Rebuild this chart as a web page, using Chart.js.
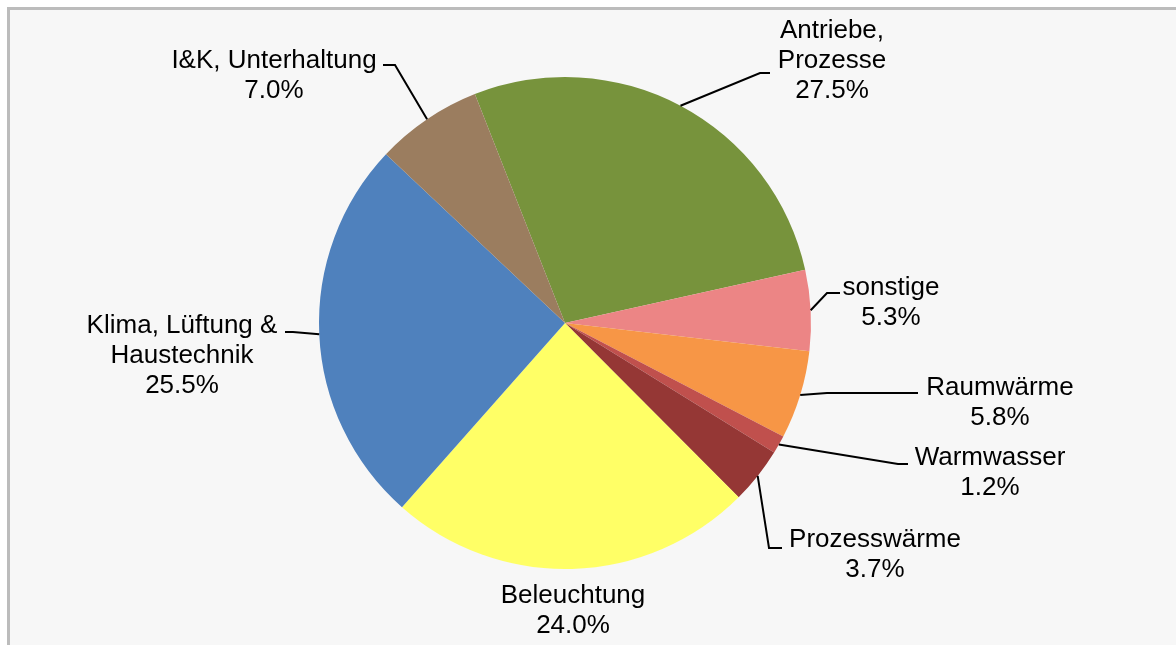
<!DOCTYPE html>
<html>
<head>
<meta charset="utf-8">
<script src="https://cdn.jsdelivr.net/npm/chart.js@4"></script>
<style>
  html, body { margin: 0; padding: 0; background: #fff; }
  #frame {
    position: absolute; left: 7px; top: 7px; right: -10px; bottom: -10px;
    border-left: 3px solid #bcbcbc; border-top: 3px solid #bcbcbc;
    background: #f7f7f7;
  }
  #wrap { position: absolute; left: 0; top: 0; width: 1176px; height: 645px; }
</style>
</head>
<body>
<div id="frame"></div>
<div id="wrap"><canvas id="pieChart" width="1176" height="645"></canvas></div>
<script>
const categories = ['Antriebe, Prozesse', 'sonstige', 'Raumwärme', 'Warmwasser',
  'Prozesswärme', 'Beleuchtung', 'Klima, Lüftung & Haustechnik', 'I&K, Unterhaltung'];
const labelLines = [['Antriebe,', 'Prozesse'], ['sonstige'], ['Raumwärme'], ['Warmwasser'],
  ['Prozesswärme'], ['Beleuchtung'], ['Klima, Lüftung &', 'Haustechnik'], ['I&K, Unterhaltung']];
const shares = [27.5, 5.3, 5.8, 1.2, 3.7, 24.0, 25.5, 7.0];
const sliceColors = ['#77933C', '#EC8585', '#F79646', '#C0504D',
  '#953735', '#FFFF66', '#4F81BD', '#9B7D5F'];

// label placement: text centre x, first baseline y, leader elbow and end
const labelLayout = [
  { x: 832, y: 38, elbow: [760, 73], end: [770, 73] },
  { x: 891, y: 295, elbow: [827, 293], end: [840, 293] },
  { x: 1000, y: 395, elbow: [827, 393], end: [918, 393] },
  { x: 990, y: 465, elbow: [898, 464], end: [908, 464] },
  { x: 875, y: 547, elbow: [769, 548], end: [782, 548] },
  { x: 573, y: 603, elbow: null, end: null },
  { x: 182, y: 333, elbow: [293, 332], end: [285, 332] },
  { x: 274, y: 68, elbow: [395, 65], end: [383, 65] }
];

const calloutLabels = {
  id: 'calloutLabels',
  afterDatasetsDraw(chart) {
    const ctx = chart.ctx;
    const arcs = chart.getDatasetMeta(0).data;
    ctx.save();
    ctx.font = '26px "Liberation Sans", Arial, sans-serif';
    ctx.fillStyle = '#000';
    ctx.strokeStyle = '#000';
    ctx.lineWidth = 2;
    ctx.textAlign = 'center';
    arcs.forEach((arc, i) => {
      const p = arc.getProps(['x', 'y', 'startAngle', 'endAngle', 'outerRadius'], true);
      const mid = (p.startAngle + p.endAngle) / 2;
      const lay = labelLayout[i];
      if (lay.elbow) {
        ctx.beginPath();
        ctx.moveTo(p.x + Math.cos(mid) * p.outerRadius, p.y + Math.sin(mid) * p.outerRadius);
        ctx.lineTo(lay.elbow[0], lay.elbow[1]);
        ctx.lineTo(lay.end[0], lay.end[1]);
        ctx.stroke();
      }
      const lines = [...labelLines[i], shares[i].toFixed(1) + '%'];
      lines.forEach((t, k) => ctx.fillText(t, lay.x, lay.y + k * 30));
    });
    ctx.restore();
  }
};

new Chart(document.getElementById('pieChart'), {
  type: 'pie',
  data: {
    labels: categories,
    datasets: [{
      data: shares,
      backgroundColor: sliceColors,
      borderWidth: 0
    }]
  },
  options: {
    responsive: false,
    animation: false,
    rotation: -21.5,
    layout: { padding: { left: 319, right: 365, top: 77, bottom: 76 } },
    plugins: {
      legend: { display: false },
      tooltip: { enabled: false }
    }
  },
  plugins: [calloutLabels]
});
</script>
</body>
</html>
